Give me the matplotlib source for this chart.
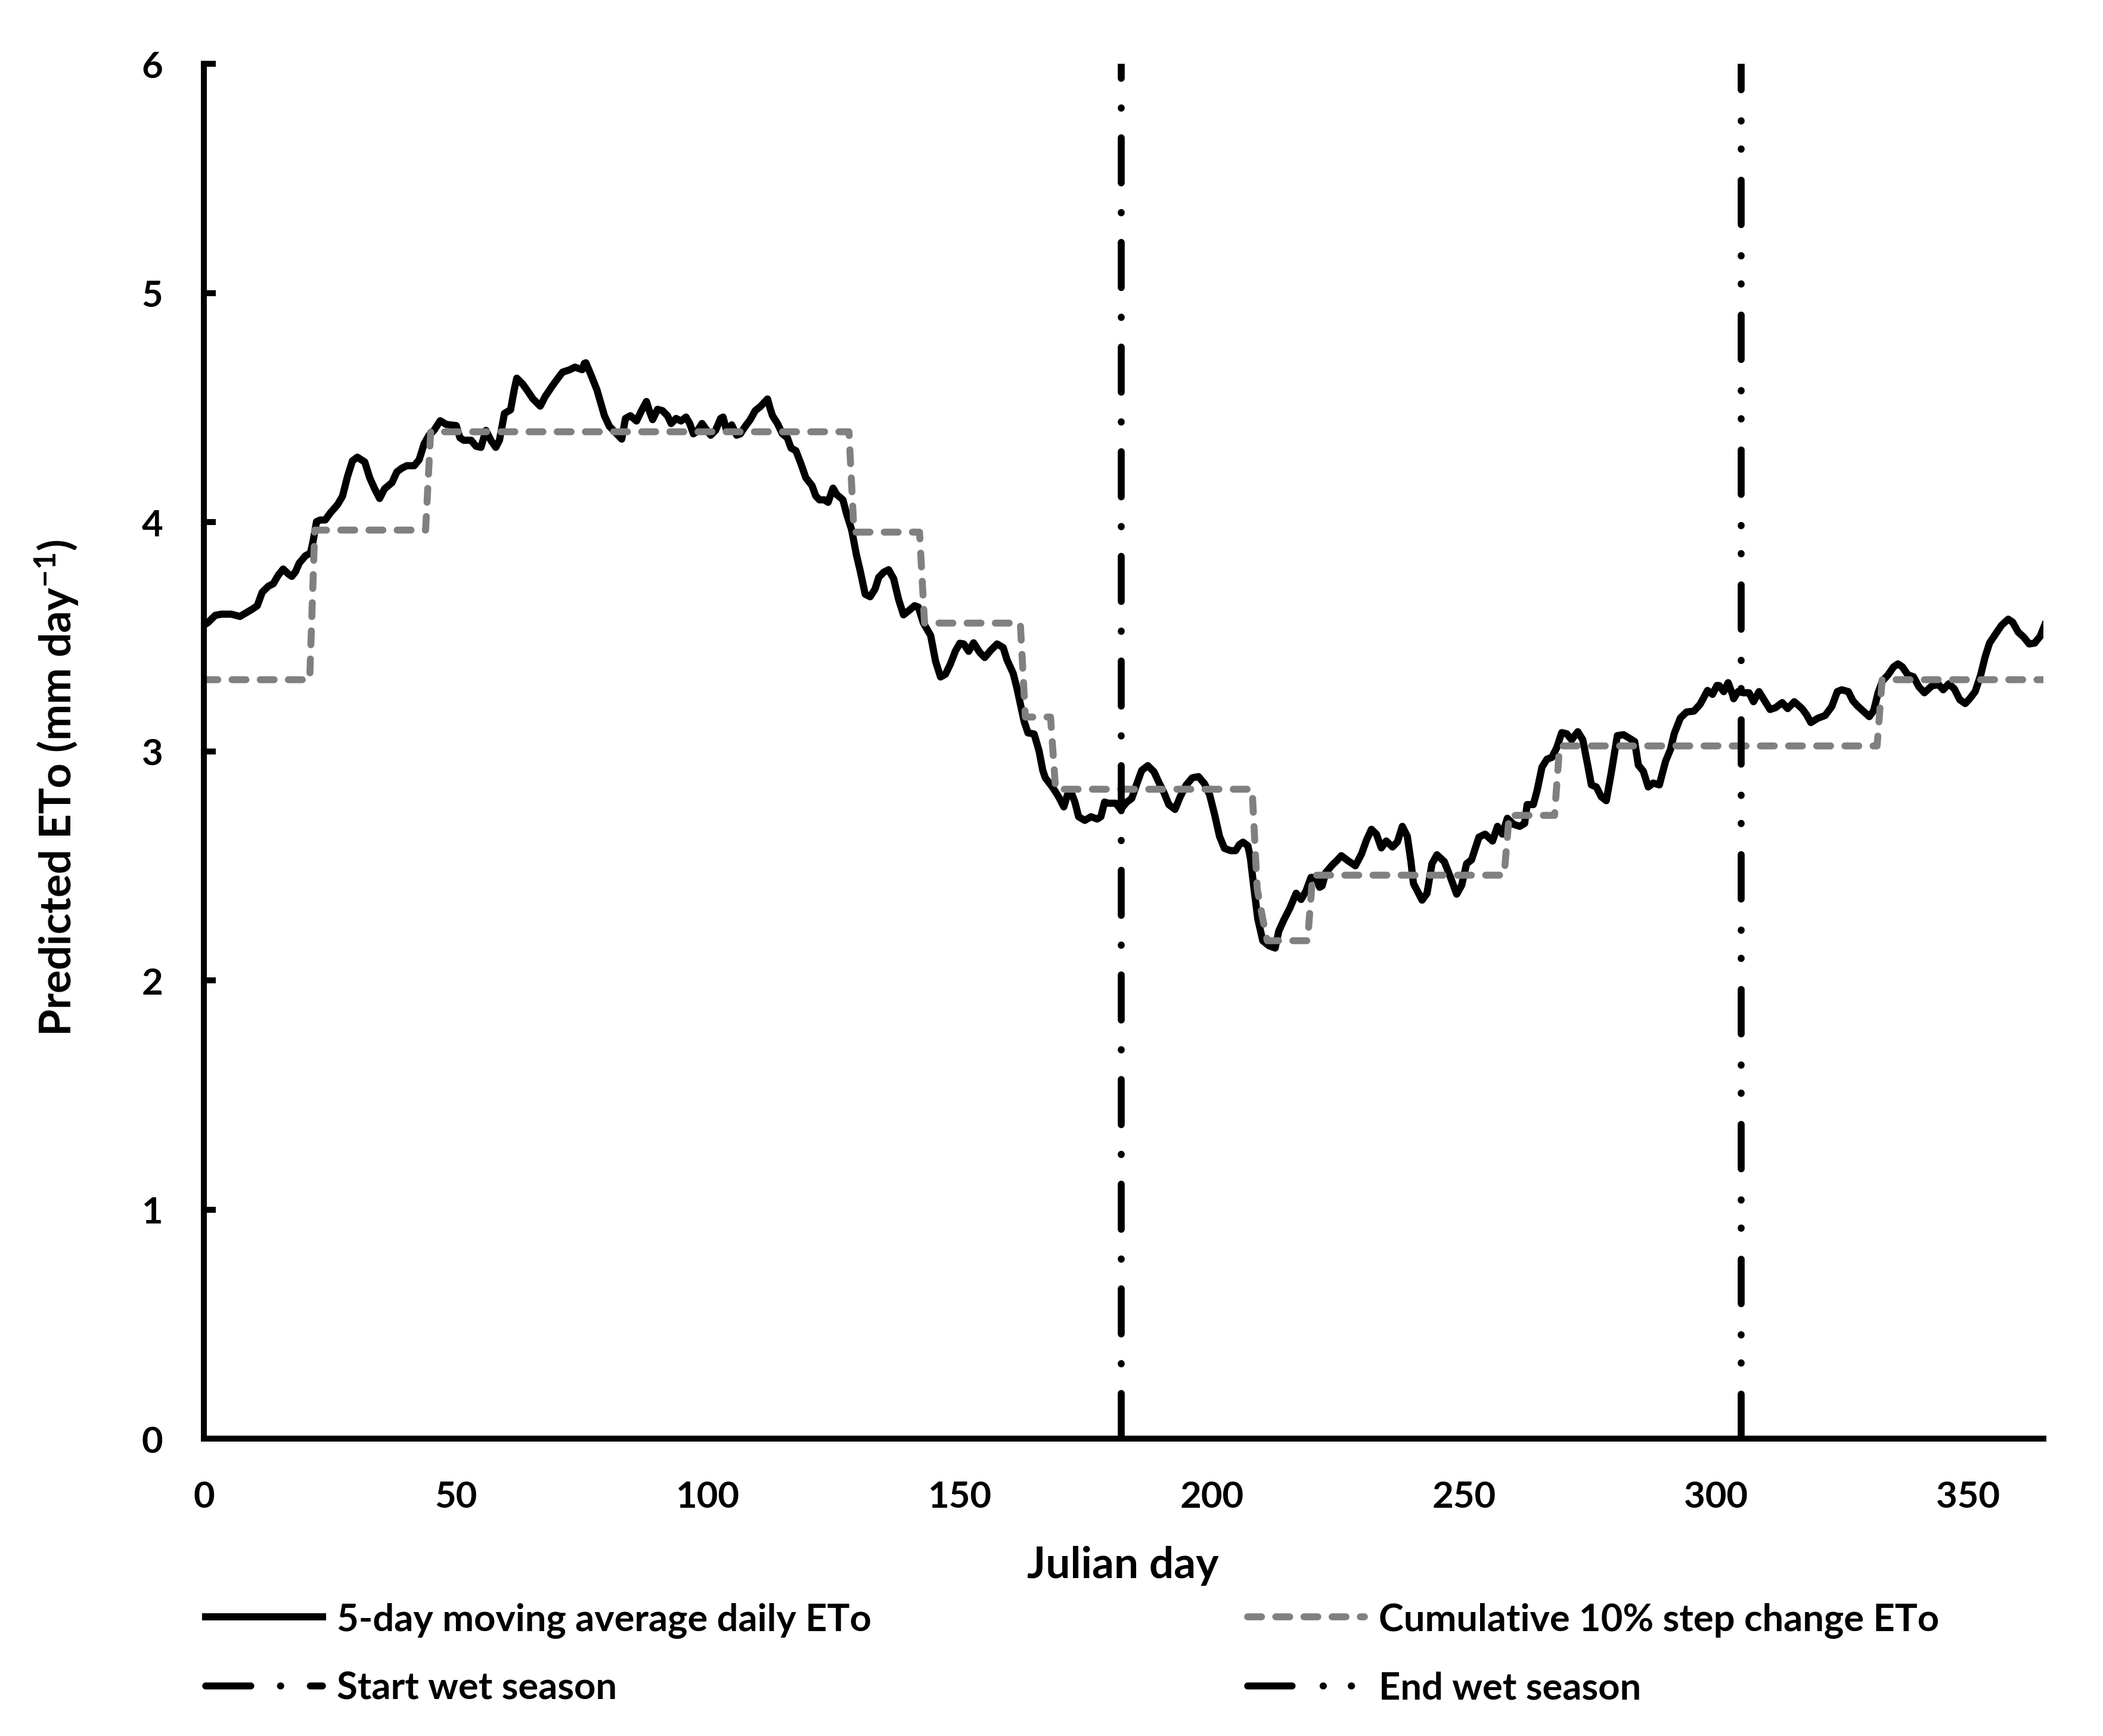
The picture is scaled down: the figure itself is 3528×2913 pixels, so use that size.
import matplotlib
matplotlib.use('Agg')
import matplotlib.pyplot as plt

plt.rcParams['font.family'] = ['Lato', 'DejaVu Sans']
plt.rcParams['font.weight'] = 'bold'
plt.rcParams['mathtext.fontset'] = 'custom'
plt.rcParams['mathtext.rm'] = 'Lato:bold'
plt.rcParams['mathtext.it'] = 'Lato:bold'
plt.rcParams['mathtext.bf'] = 'Lato:bold'

# 5-day moving average of daily ETo
ma_day = [0.0, 0.79, 2.26, 3.48, 5.45, 7.16, 8.39, 9.61, 10.60, 11.58, 12.80, 13.78, 14.76,
          15.74, 16.73, 17.46, 18.20, 18.93, 20.16, 21.14, 21.63, 22.36, 23.10, 24.08,
          25.06, 26.53, 27.51, 28.49, 29.48, 30.46, 31.93, 32.91, 33.89, 34.87, 35.85,
          37.32, 38.30, 39.28, 40.27, 41.74, 42.72, 43.70, 44.68, 45.66, 46.89, 48.11,
          50.07, 50.81, 51.55, 53.02, 54.00, 54.98, 55.96, 56.94, 57.92, 58.65, 59.64,
          60.86, 61.60, 62.09, 63.31, 64.30, 65.28, 66.75, 67.73, 69.20, 70.43, 71.16,
          72.63, 73.61, 75.08, 75.48,
          75.80, 76.78, 78.01, 78.74, 79.48, 80.46, 81.68, 82.91, 83.65, 84.63, 85.85,
          86.83, 87.81, 88.55, 89.04, 90.02, 91.00, 91.98, 92.72, 93.70, 94.68, 95.66,
          96.40, 97.13, 97.87, 98.85, 99.58, 100.57, 101.55, 102.53, 103.02, 103.75,
          104.73, 105.71, 106.45, 107.43, 108.41, 109.39, 110.37, 111.84, 112.34, 112.83,
          113.81, 114.79, 115.77, 116.50, 117.48, 118.46, 119.45, 120.67, 121.41, 122.14,
          123.12, 123.86, 124.84, 125.58, 126.80, 127.54, 128.52, 129.50, 130.23, 131.22,
          132.20, 133.18, 133.91, 134.89, 135.87, 136.86, 137.84, 138.82, 139.80, 141.02,
          141.76, 142.74, 144.21, 145.19, 146.17, 147.15, 148.14, 149.12, 150.00,
          150.77, 151.75, 152.73, 153.95, 154.94, 156.16, 157.39, 158.61, 159.35, 160.58,
          161.31, 162.05, 162.78, 163.52, 164.74, 165.72, 166.46, 166.95, 168.42, 169.65,
          170.63, 171.36, 172.10, 172.83, 173.57, 174.80, 176.02, 177.25, 177.98, 178.72,
          179.46, 180.93, 181.91, 183.13, 184.11, 185.10, 186.08, 187.30, 188.53, 189.51,
          190.49, 191.47, 192.70, 193.68, 194.90, 196.13, 197.36, 198.58, 199.56, 200.54,
          201.52, 202.50, 203.73, 204.71, 205.45, 206.18, 207.16, 207.65, 208.39, 209.12,
          210.11, 211.33, 212.56, 213.29, 214.27, 215.50, 216.73, 217.71, 218.69, 219.67,
          220.65, 221.39, 221.88, 222.61, 223.84, 224.82, 225.70,
          227.01, 228.48, 229.71, 230.69, 231.67, 232.65, 233.63, 234.61, 235.84, 236.82,
          237.80, 238.78, 239.51, 240.00, 241.72, 242.70, 243.68, 244.66, 246.13, 247.36,
          248.59, 249.57, 250.55, 251.53, 253.00, 254.23, 255.70, 256.68, 257.66, 258.64,
          259.87, 261.09, 262.07, 262.56, 263.79, 264.53, 265.50, 266.49, 267.47, 268.45,
          269.43, 270.41, 271.39, 272.62, 273.60, 274.58, 275.31, 276.29, 277.28, 278.26,
          279.24, 280.46, 281.69, 282.67, 283.90, 284.63, 285.61, 286.59, 287.57, 288.80,
          290.03, 291.01, 291.74, 292.97, 294.19, 295.66, 296.89, 298.36, 299.34, 300.23,
          300.69, 301.57, 302.45, 303.32, 303.54, 304.41, 305.51, 306.60, 307.48, 308.57,
          309.67, 310.76, 311.85, 313.17, 314.26, 315.57, 317.11, 317.98, 318.86, 320.17,
          321.70, 323.01, 324.11, 324.98, 326.30, 327.17, 328.05, 329.36, 330.45, 331.33,
          332.20, 333.08, 334.17, 335.27, 336.14, 337.02, 338.11, 339.21, 340.30, 341.39,
          342.92, 344.24, 345.11, 346.21, 347.30, 348.40, 349.49, 350.37, 351.46, 352.56,
          353.43, 354.31, 355.62, 356.71, 358.02, 358.90, 359.99, 361.09, 362.18, 363.28,
          364.37, 365.25]
ma_eto = [3.550, 3.561, 3.593, 3.598, 3.598, 3.588, 3.604, 3.620, 3.635, 3.694, 3.720, 3.731, 3.768,
          3.795, 3.774, 3.763, 3.784, 3.821, 3.853, 3.864, 3.912, 4.002, 4.009, 4.009,
          4.039, 4.076, 4.113, 4.198, 4.267, 4.283, 4.262, 4.193, 4.145, 4.103, 4.145,
          4.172, 4.219, 4.235, 4.246, 4.246, 4.272, 4.341, 4.379, 4.400, 4.442, 4.426,
          4.421, 4.368, 4.357, 4.357, 4.331, 4.326, 4.400, 4.357, 4.326, 4.357, 4.474,
          4.490, 4.580, 4.628, 4.601, 4.570, 4.538, 4.506, 4.548, 4.596, 4.633, 4.654,
          4.665, 4.676, 4.665, 4.692,
          4.695, 4.644, 4.576, 4.520, 4.464, 4.418, 4.390, 4.362, 4.452, 4.464, 4.441,
          4.486, 4.526, 4.475, 4.447, 4.492, 4.486, 4.464, 4.430, 4.452, 4.441, 4.458,
          4.430, 4.385, 4.396, 4.430, 4.407, 4.379, 4.401, 4.452, 4.458, 4.396,
          4.424, 4.379, 4.385, 4.418, 4.447, 4.486, 4.503, 4.537, 4.497, 4.464,
          4.430, 4.385, 4.368, 4.323, 4.311, 4.255, 4.193, 4.159, 4.114, 4.097,
          4.097, 4.086, 4.148, 4.120, 4.097, 4.035, 3.967, 3.855, 3.787, 3.685,
          3.674, 3.708, 3.759, 3.781, 3.792, 3.753, 3.663, 3.595, 3.612, 3.635,
          3.629, 3.561, 3.505, 3.392, 3.324, 3.336, 3.381, 3.437, 3.471,
          3.468, 3.436, 3.473, 3.431, 3.409, 3.441, 3.468, 3.452, 3.399, 3.340,
          3.277, 3.202, 3.128, 3.080, 3.075, 3.001, 2.916, 2.884, 2.842, 2.799,
          2.757, 2.810, 2.820, 2.778, 2.714, 2.698, 2.714, 2.704, 2.714, 2.778,
          2.773, 2.773, 2.746, 2.778, 2.794, 2.857, 2.916, 2.937, 2.910, 2.863,
          2.820, 2.767, 2.746, 2.799, 2.852, 2.884, 2.889, 2.857, 2.810, 2.725,
          2.629, 2.576, 2.566, 2.566, 2.592, 2.603, 2.587, 2.534, 2.396, 2.268,
          2.173, 2.151, 2.141, 2.215, 2.263, 2.316, 2.380, 2.353, 2.390, 2.449,
          2.449, 2.406, 2.412, 2.470, 2.502, 2.523, 2.544,
          2.522, 2.500, 2.552, 2.612, 2.659, 2.638, 2.578, 2.608, 2.582, 2.604,
          2.672, 2.629, 2.518, 2.423, 2.350, 2.380, 2.509, 2.548, 2.518, 2.449,
          2.376, 2.415, 2.509, 2.526, 2.625, 2.638, 2.608, 2.672, 2.638, 2.707,
          2.681, 2.672, 2.685, 2.767, 2.767, 2.827, 2.930, 2.965, 2.973, 3.016,
          3.081, 3.076, 3.050, 3.085, 3.050, 2.939, 2.853, 2.844, 2.801, 2.784,
          2.904, 3.068, 3.072, 3.059, 3.042, 2.939, 2.913, 2.844, 2.861, 2.853,
          2.956, 3.008, 3.076, 3.145, 3.171, 3.175, 3.205, 3.265, 3.248, 3.287,
          3.286, 3.260, 3.299, 3.247, 3.229, 3.260, 3.255, 3.255, 3.216, 3.260,
          3.221, 3.182, 3.190, 3.212, 3.186, 3.216, 3.186, 3.160, 3.125, 3.143,
          3.156, 3.195, 3.260, 3.268, 3.260, 3.221, 3.199, 3.173, 3.151, 3.177,
          3.255, 3.307, 3.333, 3.368, 3.381, 3.368, 3.333, 3.325, 3.281, 3.255,
          3.286, 3.290, 3.268, 3.294, 3.273, 3.225, 3.208, 3.229, 3.260, 3.333,
          3.411, 3.472, 3.515, 3.550, 3.576, 3.563, 3.520, 3.498, 3.468, 3.472,
          3.502, 3.550]

# cumulative 10% step change ETo (corner points of the steps)
step_day = [0, 21, 22, 44, 45, 128, 129, 142, 143, 162, 163, 168, 169, 208, 209, 210,
            211, 219, 220, 258, 259, 268, 269, 332, 333, 365]
step_eto = [3.312, 3.312, 3.965, 3.965, 4.394, 4.394, 3.956, 3.956, 3.559, 3.559, 3.149,
            3.149, 2.834, 2.834, 2.40, 2.28, 2.173, 2.173, 2.459, 2.459, 2.720, 2.720,
            3.023, 3.023, 3.312, 3.312]

# wet season boundaries (Julian day)
start_wet = 182
end_wet = 305

x_ticks = [0, 50, 100, 150, 200, 250, 300, 350]
y_ticks = [0, 1, 2, 3, 4, 5, 6]

fig = plt.figure(figsize=(11.76, 9.7133), dpi=300)
ax = fig.add_axes([0.09694, 0.17124, 0.87472, 0.7917])

l1, = ax.plot(ma_day, ma_eto, color='black', lw=2.9, solid_joinstyle='round',
              label='5-day moving average daily ETo')
l2, = ax.plot(step_day, step_eto, color='#808080', lw=2.8, dashes=(2.0, 2.05),
              dash_capstyle='round', label='Cumulative 10% step change ETo')
l3, = ax.plot([start_wet, start_wet], [y_ticks[0], y_ticks[-1]], color='black', lw=2.8,
              dashes=(6.5, 4.25, 0.05, 4.25), dash_capstyle='round', label='Start wet season')
l4, = ax.plot([end_wet, end_wet], [y_ticks[0], y_ticks[-1]], color='black', lw=2.8,
              dashes=(6.4, 4.45, 0.05, 4.0, 0.05, 4.45), dash_capstyle='round',
              label='End wet season')

ax.set_xlim(0, 365)
ax.set_ylim(0, 6)
ax.set_xticks(x_ticks)
ax.set_yticks(y_ticks)
for side in ['top', 'right']:
    ax.spines[side].set_visible(False)
for side in ['left', 'bottom']:
    ax.spines[side].set_linewidth(2.4)
ax.tick_params(axis='x', length=0, pad=16.5, labelsize=14.8)
ax.tick_params(axis='y', direction='in', length=4.8, width=2.4, pad=16.5, labelsize=14.8)

fig.text(0.0269, 0.5463, r'Predicted ETo (mm day$^{-1}$)', rotation=90,
         ha='center', va='center', fontsize=17.5, fontweight='bold')
fig.text(0.534, 0.0913, 'Julian day', ha='center', va='baseline',
         fontsize=17.5, fontweight='bold')

# legend: two columns, two rows
leg_pos = [(l1, 0.09779, 0.06696), (l2, 0.59325, 0.06696),
           (l3, 0.09779, 0.02749), (l4, 0.59325, 0.02749)]
for handle, lx, ly in leg_pos:
    fig.legend([handle], [handle.get_label()], loc='center left',
               bbox_to_anchor=(lx, ly), bbox_transform=fig.transFigure,
               frameon=False, borderpad=0, borderaxespad=0,
               handlelength=3.1, handletextpad=0.38,
               prop={'weight': 'bold', 'size': 15.2})

fig.savefig('out.png', dpi=300)
